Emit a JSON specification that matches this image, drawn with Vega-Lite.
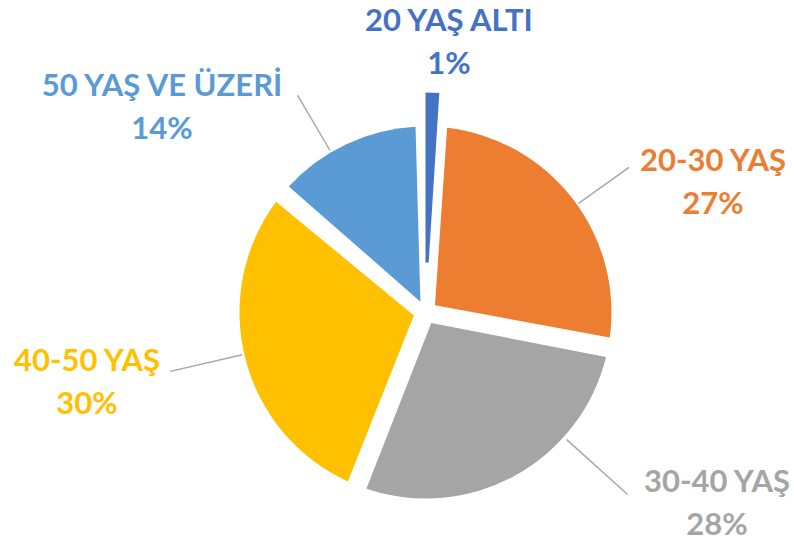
{
  "$schema": "https://vega.github.io/schema/vega-lite/v6.json",
  "width": 370,
  "height": 370,
  "autosize": {"type": "none"},
  "padding": {"left": 240.5, "top": 127.5, "right": 183.5, "bottom": 45.5},
  "background": "white",
  "config": {"view": {"stroke": null}},
  "data": {
    "values": [
      {"category": "20 YAŞ ALTI", "value": 1, "order": 1, "labelAngle": 4.75, "labelDist": 282.0, "leaderAngle": null, "leaderInner": null, "leaderOuter": null},
      {"category": "20-30 YAŞ", "value": 27, "order": 2, "labelAngle": 63.8, "labelDist": 320.4, "leaderAngle": 54.5, "leaderInner": 188, "leaderOuter": 250},
      {"category": "30-40 YAŞ", "value": 28, "order": 3, "labelAngle": 121.62, "labelDist": 342.3, "leaderAngle": 132, "leaderInner": 190, "leaderOuter": 272},
      {"category": "40-50 YAŞ", "value": 30, "order": 4, "labelAngle": 260.19, "labelDist": 343.5, "leaderAngle": 257, "leaderInner": 188, "leaderOuter": 262},
      {"category": "50 YAŞ VE ÜZERİ", "value": 14, "order": 5, "labelAngle": 309.4, "labelDist": 341.0, "leaderAngle": 329.5, "leaderInner": 188, "leaderOuter": 252}
    ]
  },
  "transform": [
    {"stack": "value", "groupby": [], "sort": [{"field": "order", "order": "ascending"}], "as": ["v0", "v1"]},
    {"calculate": "[datum.category, datum.value + '%']", "as": "labelLines"}
  ],
  "resolve": {"scale": {"theta": "independent", "radius": "independent"}},
  "layer": [
    {
      "transform": [{"filter": "datum.value >= 2"}],
      "mark": {"type": "arc", "radius": 186, "radius2": 12, "padAngle": 0.107},
      "encoding": {
        "theta": {"field": "v0", "type": "quantitative", "scale": {"domain": [0, 100]}},
        "theta2": {"field": "v1"},
        "color": {
          "field": "category", "type": "nominal", "legend": null,
          "scale": {
            "domain": ["20 YAŞ ALTI", "20-30 YAŞ", "30-40 YAŞ", "40-50 YAŞ", "50 YAŞ VE ÜZERİ"],
            "range": ["#4472C4", "#ED7D31", "#A5A5A5", "#FFC000", "#5B9BD5"]
          }
        }
      }
    },
    {
      "transform": [{"filter": "datum.value < 2"}],
      "mark": {"type": "arc", "radius": 220, "radius2": 50},
      "encoding": {
        "theta": {"field": "v0", "type": "quantitative", "scale": {"domain": [0, 100]}},
        "theta2": {"field": "v1"},
        "color": {"field": "category", "type": "nominal", "legend": null}
      }
    },
    {
      "transform": [{"filter": "isValid(datum.leaderAngle)"}],
      "mark": {"type": "arc", "fill": null, "stroke": "#A6A6A6", "strokeWidth": 1.4},
      "encoding": {
        "theta": {"field": "leaderAngle", "type": "quantitative", "scale": {"domain": [0, 360], "range": [0, 6.283185307179586]}},
        "theta2": {"field": "leaderAngle"},
        "radius": {"field": "leaderInner", "type": "quantitative", "scale": {"type": "linear", "domain": [0, 400], "range": [0, 400]}},
        "radius2": {"field": "leaderOuter"}
      }
    },
    {
      "mark": {"type": "text", "font": "Lato", "fontWeight": "bold", "fontSize": 31, "lineHeight": 43, "align": "center", "baseline": "alphabetic"},
      "encoding": {
        "theta": {"field": "labelAngle", "type": "quantitative", "scale": {"domain": [0, 360], "range": [0, 6.283185307179586]}},
        "radius": {"field": "labelDist", "type": "quantitative", "scale": {"type": "linear", "domain": [0, 400], "range": [0, 400]}},
        "text": {"field": "labelLines"},
        "color": {"field": "category", "type": "nominal", "legend": null}
      }
    }
  ]
}
